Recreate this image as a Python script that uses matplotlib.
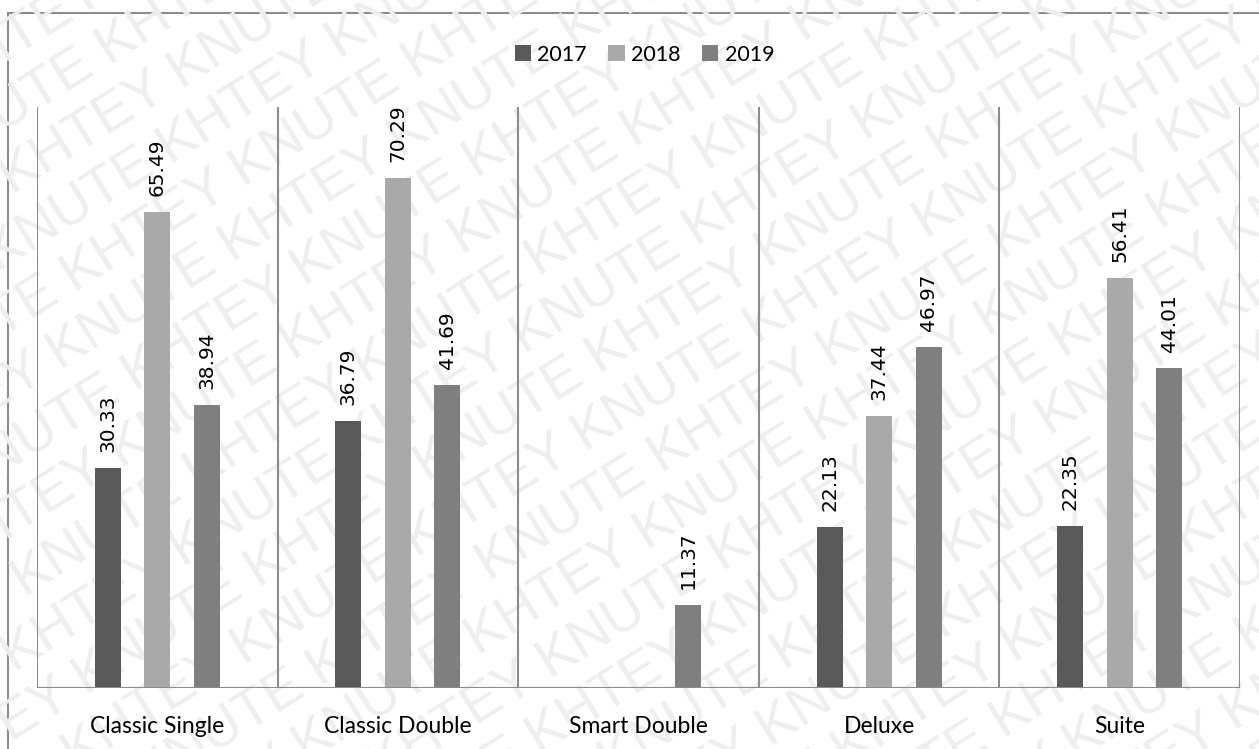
import numpy as np
from matplotlib import pyplot as plt
from matplotlib.patches import Rectangle

categories = ['Classic Single', 'Classic Double', 'Smart Double', 'Deluxe', 'Suite']
years = ['2017', '2018', '2019']
v2017 = [30.33, 36.79, 0, 22.13, 22.35]
v2018 = [65.49, 70.29, 0, 37.44, 56.41]
v2019 = [38.94, 41.69, 11.37, 46.97, 44.01]
colors = ['#595959', '#a9a9a9', '#7f7f7f']

fig = plt.figure(figsize=(12.59, 7.49), dpi=100)

# watermark behind everything (pixel coordinates)
wm = fig.add_axes([0, 0, 1, 1], zorder=0)
wm.set_xlim(0, 1259)
wm.set_ylim(0, 749)
wm.axis('off')
line = 'KHTEY KNUTE ' * 5
deg = 32
a = np.deg2rad(deg)
u = np.array([np.cos(a), np.sin(a)])
n = np.array([-np.sin(a), np.cos(a)])
step = 58
for k in range(-13, 12):
    p = k * step * n - 500 * u + (k % 2) * 150 * u
    wm.text(p[0], p[1], line, rotation=deg, rotation_mode='anchor', fontsize=40,
            family='Liberation Sans', color='#eeeeee', ha='left', va='baseline')

# outer frame
wm.add_patch(Rectangle((8, -10), 1300, 746, fill=False, edgecolor='#8c8c8c', lw=1.5))

ax = fig.add_axes([37 / 1259, 1 - 688 / 749, (1240 - 37) / 1259, (688 - 107) / 749], zorder=1)
ax.patch.set_alpha(0)

x = np.arange(len(categories))
w = 0.108
off = 0.206
for i, (vals, yr) in enumerate(zip([v2017, v2018, v2019], years)):
    pos = x + (i - 1) * off
    ax.bar(pos, vals, w, color=colors[i], label=yr, zorder=2)
    for p, v in zip(pos, vals):
        if v > 0:
            ax.text(p, v + 2.2, f'{v:.2f}', rotation=90, ha='center', va='bottom',
                    fontsize=14.5, color='black')

ax.set_xlim(-0.5, len(categories) - 0.5)
ax.set_ylim(0, 80)
for b in np.arange(-0.5, len(categories), 1):
    ax.axvline(b, color='#8c8c8c', lw=1.5, zorder=1)
ax.axhline(0, color='#8c8c8c', lw=1.5, zorder=3)
for s in ax.spines.values():
    s.set_visible(False)
ax.set_yticks([])
ax.set_xticks(x)
ax.set_xticklabels(categories, fontsize=16.5, family='Lato')
ax.tick_params(axis='x', length=0, pad=20)

ax.legend(loc='center', bbox_to_anchor=(0.505, 1.09), ncol=3, frameon=False,
          prop={'family': 'Lato', 'size': 15.5}, handlelength=0.75, handleheight=0.75,
          handletextpad=0.3, columnspacing=1.0)

fig.savefig('out.png', dpi=100)
